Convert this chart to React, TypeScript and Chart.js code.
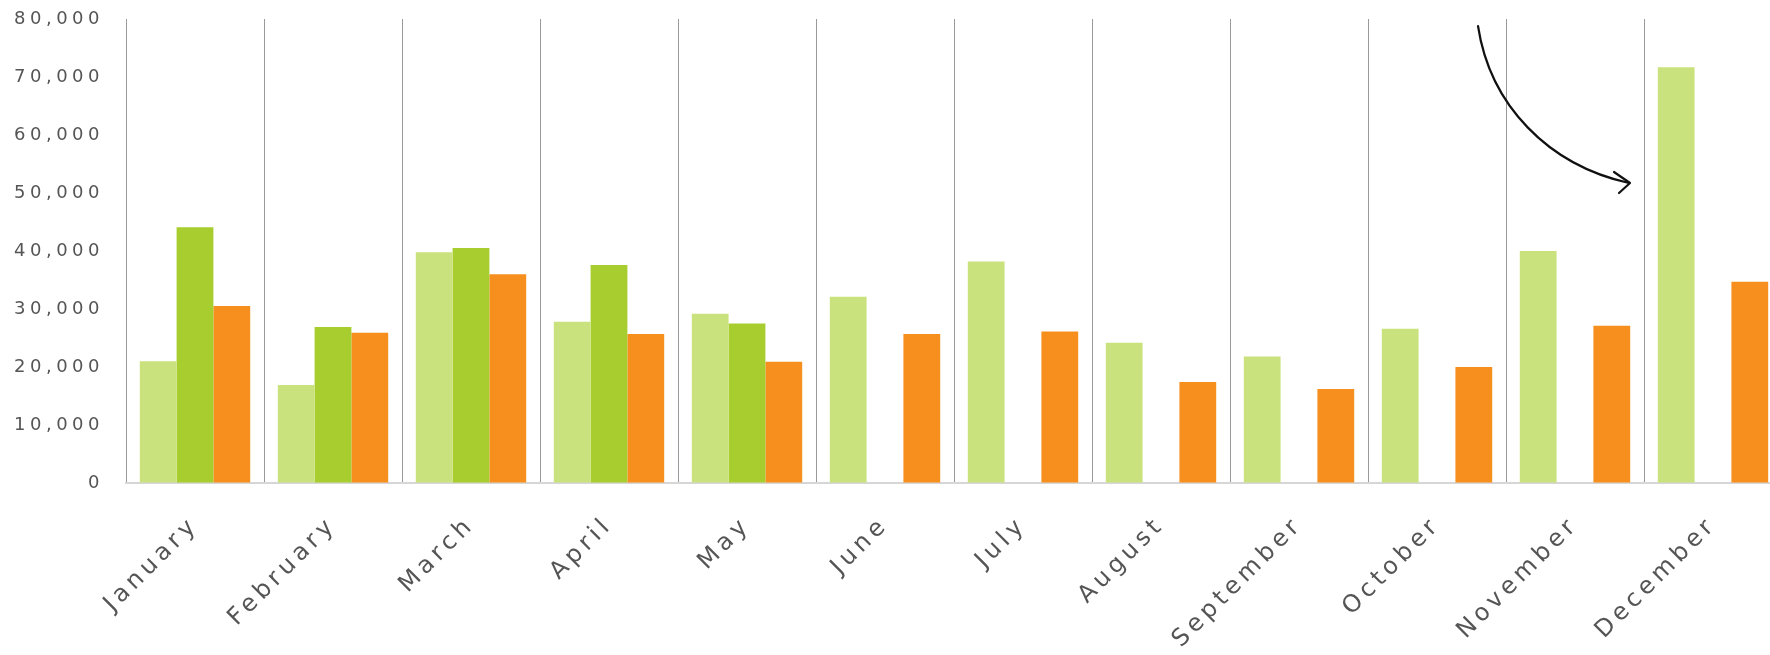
import React, { useEffect, useRef } from "react";
import { Chart, registerables } from "chart.js";

Chart.register(...registerables);

const months = [
  "January", "February", "March", "April", "May", "June",
  "July", "August", "September", "October", "November", "December",
];

const seriesLight = [21000, 16900, 39800, 27800, 29200, 32100, 38200, 24200, 21800, 26600, 40000, 71700];
const seriesDark = [44100, 26900, 40500, 37600, 27500, null, null, null, null, null, null, null];
const seriesOrange = [30500, 25900, 36000, 25700, 20900, 25700, 26100, 17400, 16200, 20000, 27100, 34700];

const yTickValues = [0, 10000, 20000, 30000, 40000, 50000, 60000, 70000, 80000];
const yTickLabels = ["0", "10,000", "20,000", "30,000", "40,000", "50,000", "60,000", "70,000", "80,000"];

const FONT = "'DejaVu Sans', sans-serif";
const TEXT_COLOR = "#555555";
const SPACING = "4.5px";

const spacingPlugin = {
  id: "letterSpacing",
  beforeLayout(chart: any) {
    chart.ctx.letterSpacing = SPACING;
  },
  beforeDraw(chart: any) {
    chart.ctx.letterSpacing = SPACING;
  },
};

const arrowPlugin = {
  id: "arrowNote",
  afterDraw(chart: any) {
    const ctx = chart.ctx;
    ctx.save();
    ctx.letterSpacing = "0px";
    ctx.strokeStyle = "#111111";
    ctx.lineWidth = 2.2;
    ctx.lineCap = "round";
    ctx.lineJoin = "round";
    ctx.beginPath();
    ctx.moveTo(1478, 26);
    ctx.bezierCurveTo(1490, 105, 1548, 165, 1629, 183);
    ctx.stroke();
    ctx.beginPath();
    ctx.moveTo(1614, 172);
    ctx.lineTo(1630, 183);
    ctx.lineTo(1619, 193);
    ctx.stroke();
    ctx.restore();
  },
};

export default function App() {
  const canvasRef = useRef<HTMLCanvasElement | null>(null);

  useEffect(() => {
    const canvas = canvasRef.current;
    if (!canvas) return;
    const chart = new Chart(canvas, {
      type: "bar",
      data: {
        labels: months,
        datasets: [
          { label: "Series A", data: seriesLight, backgroundColor: "#c9e27d", borderWidth: 0 },
          { label: "Series B", data: seriesDark, backgroundColor: "#a7cd2e", borderWidth: 0 },
          { label: "Series C", data: seriesOrange, backgroundColor: "#f78f1e", borderWidth: 0 },
        ],
      },
      options: {
        responsive: false,
        animation: false,
        devicePixelRatio: 1,
        categoryPercentage: 0.8,
        barPercentage: 1.0,
        layout: { padding: { top: 19, right: 8, left: 0, bottom: 0 } },
        plugins: {
          legend: { display: false },
          tooltip: { enabled: false },
          title: { display: false },
        },
        scales: {
          x: {
            offset: true,
            grid: {
              display: true,
              offset: true,
              color: "#9a9a9a",
              lineWidth: 1,
              drawTicks: false,
            },
            border: { display: true, color: "#d6d6d6", width: 2 },
            ticks: {
              color: TEXT_COLOR,
              font: { family: FONT, size: 24 },
              minRotation: 45,
              maxRotation: 45,
              padding: 28,
              autoSkip: false,
            },
            afterFit: (s: any) => {
              s.height = 172;
            },
          },
          y: {
            min: 0,
            max: 80000,
            grid: {
              display: true,
              drawOnChartArea: false,
              drawTicks: true,
              tickLength: 22,
              tickColor: "rgba(0,0,0,0)",
              color: "rgba(0,0,0,0)",
            },
            border: { display: false },
            ticks: {
              stepSize: 10000,
              color: TEXT_COLOR,
              font: { family: FONT, size: 18 },
              padding: 0,
              callback: (v: any) => {
                const i = yTickValues.indexOf(Number(v));
                return i >= 0 ? yTickLabels[i] : "";
              },
            },
            afterFit: (s: any) => {
              s.width = 126;
            },
          },
        },
      },
      plugins: [spacingPlugin, arrowPlugin],
    });
    return () => chart.destroy();
  }, []);

  return (
    <div
      style={{
        position: "fixed",
        left: 0,
        top: 0,
        width: 1770,
        height: 655,
        overflow: "hidden",
        background: "#ffffff",
      }}
    >
      <canvas
        ref={canvasRef}
        width={1790}
        height={655}
        style={{ display: "block", width: 1790, height: 655 }}
      />
    </div>
  );
}
